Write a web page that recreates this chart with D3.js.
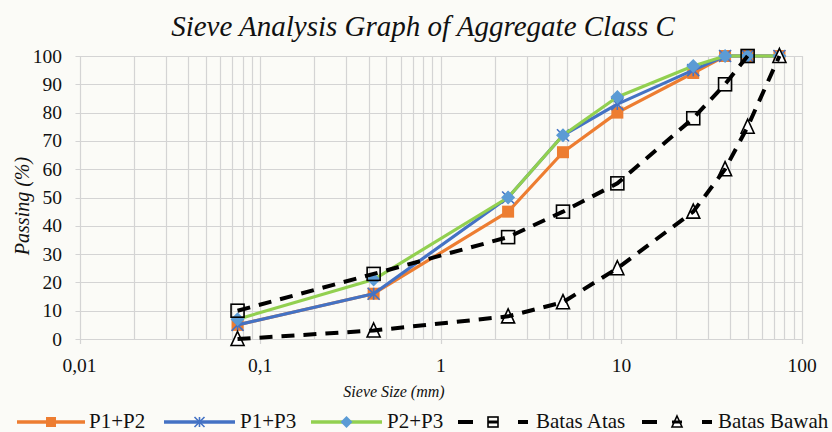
<!DOCTYPE html>
<html>
<head>
<meta charset="utf-8">
<script src="https://cdn.jsdelivr.net/npm/d3@7"></script>
<style>
  body { margin: 0; background: #fbfbf7; }
</style>
</head>
<body>
<div id="chart"></div>
<script>
// sieve sizes (mm) and percent passing for each series
const sieve = [0.075, 0.425, 2.36, 4.75, 9.5, 25, 37.5, 50, 75];
const p1p2 = [5, 16, 45, 66, 80, 94, 100, 100, 100];
const p1p3 = [5, 16, 50, 72, 83, 95, 100, 100, 100];
const p2p3 = [7, 21, 50, 72, 85.5, 96.5, 100, 100, 100];
const batasAtas = [10, 23, 36, 45, 55, 78, 90, 100, null];
const batasBawah = [0, 3, 8, 13, 25, 45, 60, 75, 100];

const xTicks = [0.01, 0.1, 1, 10, 100];
const xTickLabels = ["0,01", "0,1", "1", "10", "100"];
const yTicks = [0, 10, 20, 30, 40, 50, 60, 70, 80, 90, 100];

const series = [
  { name: "P1+P2", values: p1p2, color: "#ed7d31", marker: "square", mcolor: "#ed7d31", dash: null },
  { name: "P1+P3", values: p1p3, color: "#4472c4", marker: "star", mcolor: "#4472c4", dash: null },
  { name: "P2+P3", values: p2p3, color: "#92d050", marker: "diamond", mcolor: "#5b9bd5", dash: null },
  { name: "Batas Atas", values: batasAtas, color: "#000", marker: "box", mcolor: "#000", dash: "13,9" },
  { name: "Batas Bawah", values: batasBawah, color: "#000", marker: "tri", mcolor: "#000", dash: "13,9" }
];

const FONT = "'Liberation Serif', Tinos, 'Times New Roman', 'DejaVu Serif', serif";
const width = 832, height = 432;
const svg = d3.select("#chart").append("svg")
    .attr("width", width)
    .attr("height", height)
    .attr("font-family", FONT)
    .style("font-family", FONT);

const x = d3.scaleLog().domain([0.01, 100]).range([79.5, 802]);
const y = d3.scaleLinear().domain([0, 100]).range([339, 56]);

// grid: minor log lines + majors
const gridVals = [];
for (let e = -2; e < 2; e++) {
  for (let m = 1; m < 10; m++) gridVals.push(m * Math.pow(10, e));
}
gridVals.push(100);

const grid = svg.append("g").attr("stroke", "#d4d4d4").attr("stroke-width", 1.2);
grid.selectAll(".vg").data(gridVals).enter().append("line")
    .attr("x1", (d) => Math.round(x(d)) + 0.5)
    .attr("x2", (d) => Math.round(x(d)) + 0.5)
    .attr("y1", y(100))
    .attr("y2", (d) => xTicks.includes(d) ? y(0) + 5 : y(0));
grid.selectAll(".hg").data(yTicks).enter().append("line")
    .attr("x1", x(0.01) - 4)
    .attr("x2", x(100))
    .attr("y1", (d) => Math.round(y(d)) + 0.5)
    .attr("y2", (d) => Math.round(y(d)) + 0.5);

// tick labels
svg.append("g").selectAll("text").data(yTicks).enter().append("text")
    .attr("x", 62)
    .attr("y", (d) => y(d) + 6.5)
    .attr("text-anchor", "end")
    .attr("fill", "#111")
    .style("font-size", "19.5px")
    .text((d) => d);

svg.append("g").selectAll("text").data(xTicks).enter().append("text")
    .attr("x", (d) => x(d))
    .attr("y", 372)
    .attr("text-anchor", "middle")
    .attr("fill", "#111")
    .style("font-size", "19.5px")
    .text((d, i) => xTickLabels[i]);

// titles
svg.append("text")
    .attr("x", 423).attr("y", 36)
    .attr("text-anchor", "middle")
    .attr("fill", "#111")
    .style("font-size", "29px").style("font-style", "italic")
    .text("Sieve Analysis Graph of Aggregate Class C");

svg.append("text")
    .attr("x", 394).attr("y", 397)
    .attr("text-anchor", "middle")
    .attr("fill", "#111")
    .style("font-size", "16px").style("font-style", "italic")
    .text("Sieve Size (mm)");

svg.append("text")
    .attr("transform", "translate(29,206) rotate(-90)")
    .attr("text-anchor", "middle")
    .attr("fill", "#111")
    .style("font-size", "20px").style("font-style", "italic")
    .text("Passing (%)");

// marker drawing
function drawMarker(g, type, color, s) {
  const h = s / 2;
  if (type === "square") {
    g.append("rect").attr("x", -h).attr("y", -h).attr("width", s).attr("height", s).attr("fill", color);
  } else if (type === "diamond") {
    g.append("path").attr("d", `M0,${-h - 1}L${h + 1},0L0,${h + 1}L${-h - 1},0Z`).attr("fill", color);
  } else if (type === "star") {
    g.append("path")
        .attr("d", `M0,${-h}V${h}M${-h},${-h}L${h},${h}M${h},${-h}L${-h},${h}`)
        .attr("stroke", color).attr("stroke-width", 1.6).attr("fill", "none");
  } else if (type === "box") {
    g.append("rect").attr("x", -h).attr("y", -h).attr("width", s).attr("height", s)
        .attr("fill", "none").attr("stroke", color).attr("stroke-width", 1.6);
  } else if (type === "tri") {
    g.append("path").attr("d", `M0,${-h - 1}L${h},${h}L${-h},${h}Z`)
        .attr("fill", "#fff").attr("stroke", color).attr("stroke-width", 1.6);
  }
}

const line = d3.line()
    .x((d) => x(d.s))
    .y((d) => y(d.v));

series.forEach((sr) => {
  const pts = sieve.map((s, i) => ({ s: s, v: sr.values[i] })).filter((d) => d.v !== null);
  const g = svg.append("g");
  if (sr.dash) {
    // markers under the dashed line
    pts.forEach((p) => drawMarker(g.append("g").attr("transform", `translate(${x(p.s)},${y(p.v)})`), sr.marker, sr.mcolor, 13));
    g.append("path").datum(pts).attr("d", line)
        .attr("fill", "none").attr("stroke", sr.color).attr("stroke-width", 4)
        .attr("stroke-dasharray", sr.dash);
  } else {
    g.append("path").datum(pts).attr("d", line)
        .attr("fill", "none").attr("stroke", sr.color).attr("stroke-width", 3.2)
        .attr("stroke-linejoin", "round");
    pts.forEach((p) => drawMarker(g.append("g").attr("transform", `translate(${x(p.s)},${y(p.v)})`), sr.marker, sr.mcolor, 12));
  }
});

// legend
const legendPos = [
  { x0: 17, x1: 85, tx: 89 },
  { x0: 164, x1: 235, tx: 240 },
  { x0: 311, x1: 382, tx: 387 },
  { x0: 458, x1: 528, tx: 536 },
  { x0: 642, x1: 712, tx: 718 }
];
const ly = 422;
series.forEach((sr, i) => {
  const lp = legendPos[i];
  const g = svg.append("g");
  const mx = (lp.x0 + lp.x1) / 2;
  if (sr.dash) {
    g.append("line").attr("x1", lp.x0).attr("x2", lp.x0 + 15).attr("y1", ly).attr("y2", ly)
        .attr("stroke", "#000").attr("stroke-width", 4);
    drawMarker(g.append("g").attr("transform", `translate(${mx},${ly})`), sr.marker, "#000", 10);
    g.append("line").attr("x1", mx - 5).attr("x2", mx + 5).attr("y1", ly).attr("y2", ly)
        .attr("stroke", "#000").attr("stroke-width", 3);
    g.append("line").attr("x1", lp.x1 - 10).attr("x2", lp.x1).attr("y1", ly).attr("y2", ly)
        .attr("stroke", "#000").attr("stroke-width", 4);
  } else {
    g.append("line").attr("x1", lp.x0).attr("x2", lp.x1).attr("y1", ly).attr("y2", ly)
        .attr("stroke", sr.color).attr("stroke-width", 3.5);
    drawMarker(g.append("g").attr("transform", `translate(${mx},${ly})`), sr.marker, sr.mcolor, 10);
  }
  g.append("text").attr("x", lp.tx).attr("y", 428)
      .attr("fill", "#111")
      .style("font-size", "21px")
      .text(sr.name);
});
</script>
</body>
</html>
